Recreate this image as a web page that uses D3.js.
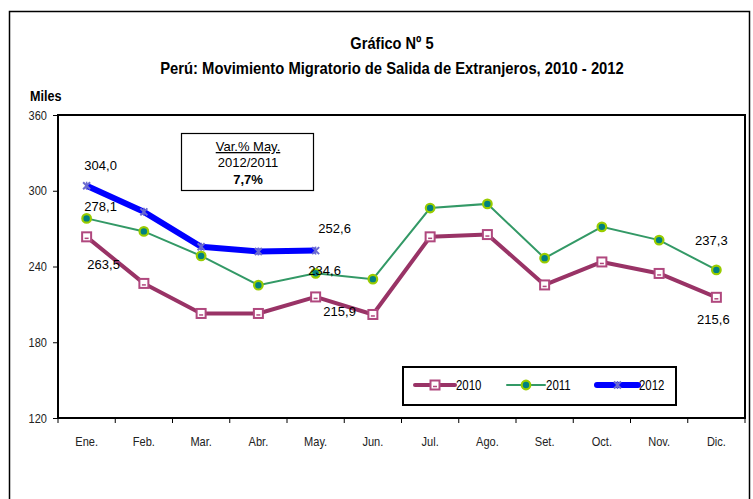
<!DOCTYPE html>
<html><head><meta charset="utf-8">
<script src="https://cdn.jsdelivr.net/npm/d3@7"></script>
<style>
body{margin:0;background:#fff;}
svg{display:block;}
.narrow{font-family:"Liberation Sans",Arial,sans-serif;}
.lab{font-family:"Liberation Sans",Arial,sans-serif;font-size:13px;fill:#000;}
</style></head><body>
<svg id="c" width="753" height="499"></svg>
<script>
const months = ["Ene.","Feb.","Mar.","Abr.","May.","Jun.","Jul.","Ago.","Set.","Oct.","Nov.","Dic."];
const s2010 = [263.5,226.6,202.8,202.8,215.9,202.0,263.5,265.3,225.4,243.6,234.5,215.6];
const s2011 = [278.1,267.8,248.4,225.2,234.6,230.0,286.3,289.6,246.6,271.4,260.9,237.3];
const s2012 = [304.0,283.3,255.6,251.9,252.6];
const yTicks = [120,180,240,300,360];
const labels = [
  {series:"2012", i:0, text:"304,0", dx:14, dy:-19},
  {series:"2011", i:0, text:"278,1", dx:14, dy:-11},
  {series:"2010", i:0, text:"263,5", dx:17, dy:29},
  {series:"2012", i:4, text:"252,6", dx:19, dy:-21},
  {series:"2011", i:4, text:"234,6", dx:9, dy:-2},
  {series:"2010", i:4, text:"215,9", dx:24, dy:16},
  {series:"2011", i:11, text:"237,3", dx:-5, dy:-28},
  {series:"2010", i:11, text:"215,6", dx:-3, dy:23}
];

const svg = d3.select("#c");
const L=58, R=745, T=115, B=418;
const x = d3.scaleBand().domain(months).range([L,R]);
const y = d3.scaleLinear().domain([120,360]).range([B,T]);
const cx = m => x(m)+x.bandwidth()/2;

function narrow(sel, k){
  sel.each(function(){
    const w=this.getComputedTextLength();
    this.setAttribute("textLength", (w*k).toFixed(1));
    this.setAttribute("lengthAdjust","spacingAndGlyphs");
  });
}

svg.append("rect").attr("x",9.5).attr("y",11.5).attr("width",740).attr("height",520)
  .attr("fill","none").attr("stroke","#000").attr("stroke-width",1.5);

svg.append("text").attr("class","narrow").attr("x",392).attr("y",49).attr("text-anchor","middle")
  .attr("font-size","17px").attr("font-weight","bold").text("Gráfico Nº 5").call(narrow,0.86);
svg.append("text").attr("class","narrow").attr("x",392).attr("y",74).attr("text-anchor","middle")
  .attr("font-size","17px").attr("font-weight","bold").text("Perú: Movimiento Migratorio de Salida de Extranjeros, 2010 - 2012").call(narrow,0.87);
svg.append("text").attr("class","narrow").attr("x",30).attr("y",101)
  .attr("font-size","14px").attr("font-weight","bold").text("Miles").call(narrow,0.9);

const yAxis = svg.append("g").attr("transform",`translate(${L},0)`)
  .call(d3.axisLeft(y).tickValues(yTicks).tickSize(5).tickPadding(6));
yAxis.select(".domain").remove();
yAxis.selectAll("text").attr("class","narrow").attr("font-size","13px").attr("fill","#222").call(narrow,0.85);

const xAxis = svg.append("g").attr("transform",`translate(0,${B})`);
const bounds = months.map(m=>x(m)).concat([R]);
xAxis.selectAll("line.tk").data(bounds).join("line").attr("class","tk")
  .attr("x1",d=>d).attr("x2",d=>d).attr("y1",0).attr("y2",5).attr("stroke","#000");
xAxis.selectAll("text").data(months).join("text").attr("class","narrow")
  .attr("x",d=>cx(d)).attr("y",28).attr("text-anchor","middle").attr("font-size","13px").attr("fill","#222").text(d=>d).call(narrow,0.85);

svg.append("rect").attr("x",L).attr("y",T).attr("width",R-L).attr("height",B-T)
  .attr("fill","none").attr("stroke","#000").attr("stroke-width",2);

const line = d3.line().x((d,i)=>cx(months[i])).y(d=>y(d));

svg.append("path").datum(s2010).attr("d",line).attr("fill","none")
  .attr("stroke","#993366").attr("stroke-width",4).attr("stroke-linejoin","round");
svg.append("path").datum(s2011).attr("d",line).attr("fill","none")
  .attr("stroke","#339966").attr("stroke-width",2);
svg.append("path").datum(s2012).attr("d",line).attr("fill","none")
  .attr("stroke","#0000ff").attr("stroke-width",6).attr("stroke-linejoin","round");

function sq(g,X,Y){
  g.append("rect").attr("x",X-4.5).attr("y",Y-4.5).attr("width",9).attr("height",9)
   .attr("fill","#fff").attr("stroke","#b0487e").attr("stroke-width",2);
  g.append("line").attr("x1",X-2).attr("x2",X+2).attr("y1",Y+1.5).attr("y2",Y+1.5).attr("stroke","#b0487e").attr("stroke-width",1.5);
}
function dot(g,X,Y){
  g.append("circle").attr("cx",X).attr("cy",Y).attr("r",4.3)
   .attr("fill","#008080").attr("stroke","#99cc00").attr("stroke-width",2.2);
}
function star(g,X,Y){
  const c="#6b6bcf";
  g.append("line").attr("x1",X-3.5).attr("x2",X+3.5).attr("y1",Y-3.5).attr("y2",Y+3.5).attr("stroke",c).attr("stroke-width",2);
  g.append("line").attr("x1",X-3.5).attr("x2",X+3.5).attr("y1",Y+3.5).attr("y2",Y-3.5).attr("stroke",c).attr("stroke-width",2);
  g.append("line").attr("x1",X).attr("x2",X).attr("y1",Y-4).attr("y2",Y+4).attr("stroke",c).attr("stroke-width",1.5);
}
const mk = svg.append("g");
s2010.forEach((v,i)=>sq(mk,cx(months[i]),y(v)));
s2011.forEach((v,i)=>dot(mk,cx(months[i]),y(v)));
s2012.forEach((v,i)=>star(mk,cx(months[i]),y(v)));

const seriesMap = {"2010":s2010,"2011":s2011,"2012":s2012};
svg.selectAll("text.lab").data(labels).join("text").attr("class","lab")
  .attr("x",d=>cx(months[d.i])+d.dx).attr("y",d=>y(seriesMap[d.series][d.i])+d.dy)
  .attr("text-anchor","middle").attr("dominant-baseline","middle").text(d=>d.text);

svg.append("rect").attr("x",181.5).attr("y",133.5).attr("width",132).attr("height",57)
  .attr("fill","#fff").attr("stroke","#000").attr("stroke-width",1.2);
svg.append("text").attr("class","lab").attr("x",248).attr("y",151).attr("text-anchor","middle")
  .attr("font-size","12px").attr("text-decoration","underline").text("Var.% May.");
svg.append("text").attr("class","lab").attr("x",248).attr("y",167).attr("text-anchor","middle")
  .attr("font-size","12px").text("2012/2011");
svg.append("text").attr("class","lab").attr("x",248).attr("y",184).attr("text-anchor","middle")
  .attr("font-size","12px").attr("font-weight","bold").text("7,7%");

const lg = svg.append("g");
lg.append("rect").attr("x",403).attr("y",367).attr("width",273).attr("height",38)
  .attr("fill","#fff").attr("stroke","#000").attr("stroke-width",2);
const legendItems = [
  {name:"2010", x1:415, x2:455, color:"#993366", w:4, m:sq},
  {name:"2011", x1:507, x2:545, color:"#339966", w:2, m:dot},
  {name:"2012", x1:597, x2:638, color:"#0000ff", w:6, m:star}
];
legendItems.forEach(it=>{
  lg.append("line").attr("x1",it.x1).attr("x2",it.x2).attr("y1",385).attr("y2",385)
    .attr("stroke",it.color).attr("stroke-width",it.w).attr("stroke-linecap","round");
  it.m(lg,(it.x1+it.x2)/2,385);
  lg.append("text").attr("class","narrow").attr("x",it.x2+1).attr("y",386)
    .attr("dominant-baseline","middle").attr("font-size","14px").text(it.name).call(narrow,0.82);
});
</script>
</body></html>
